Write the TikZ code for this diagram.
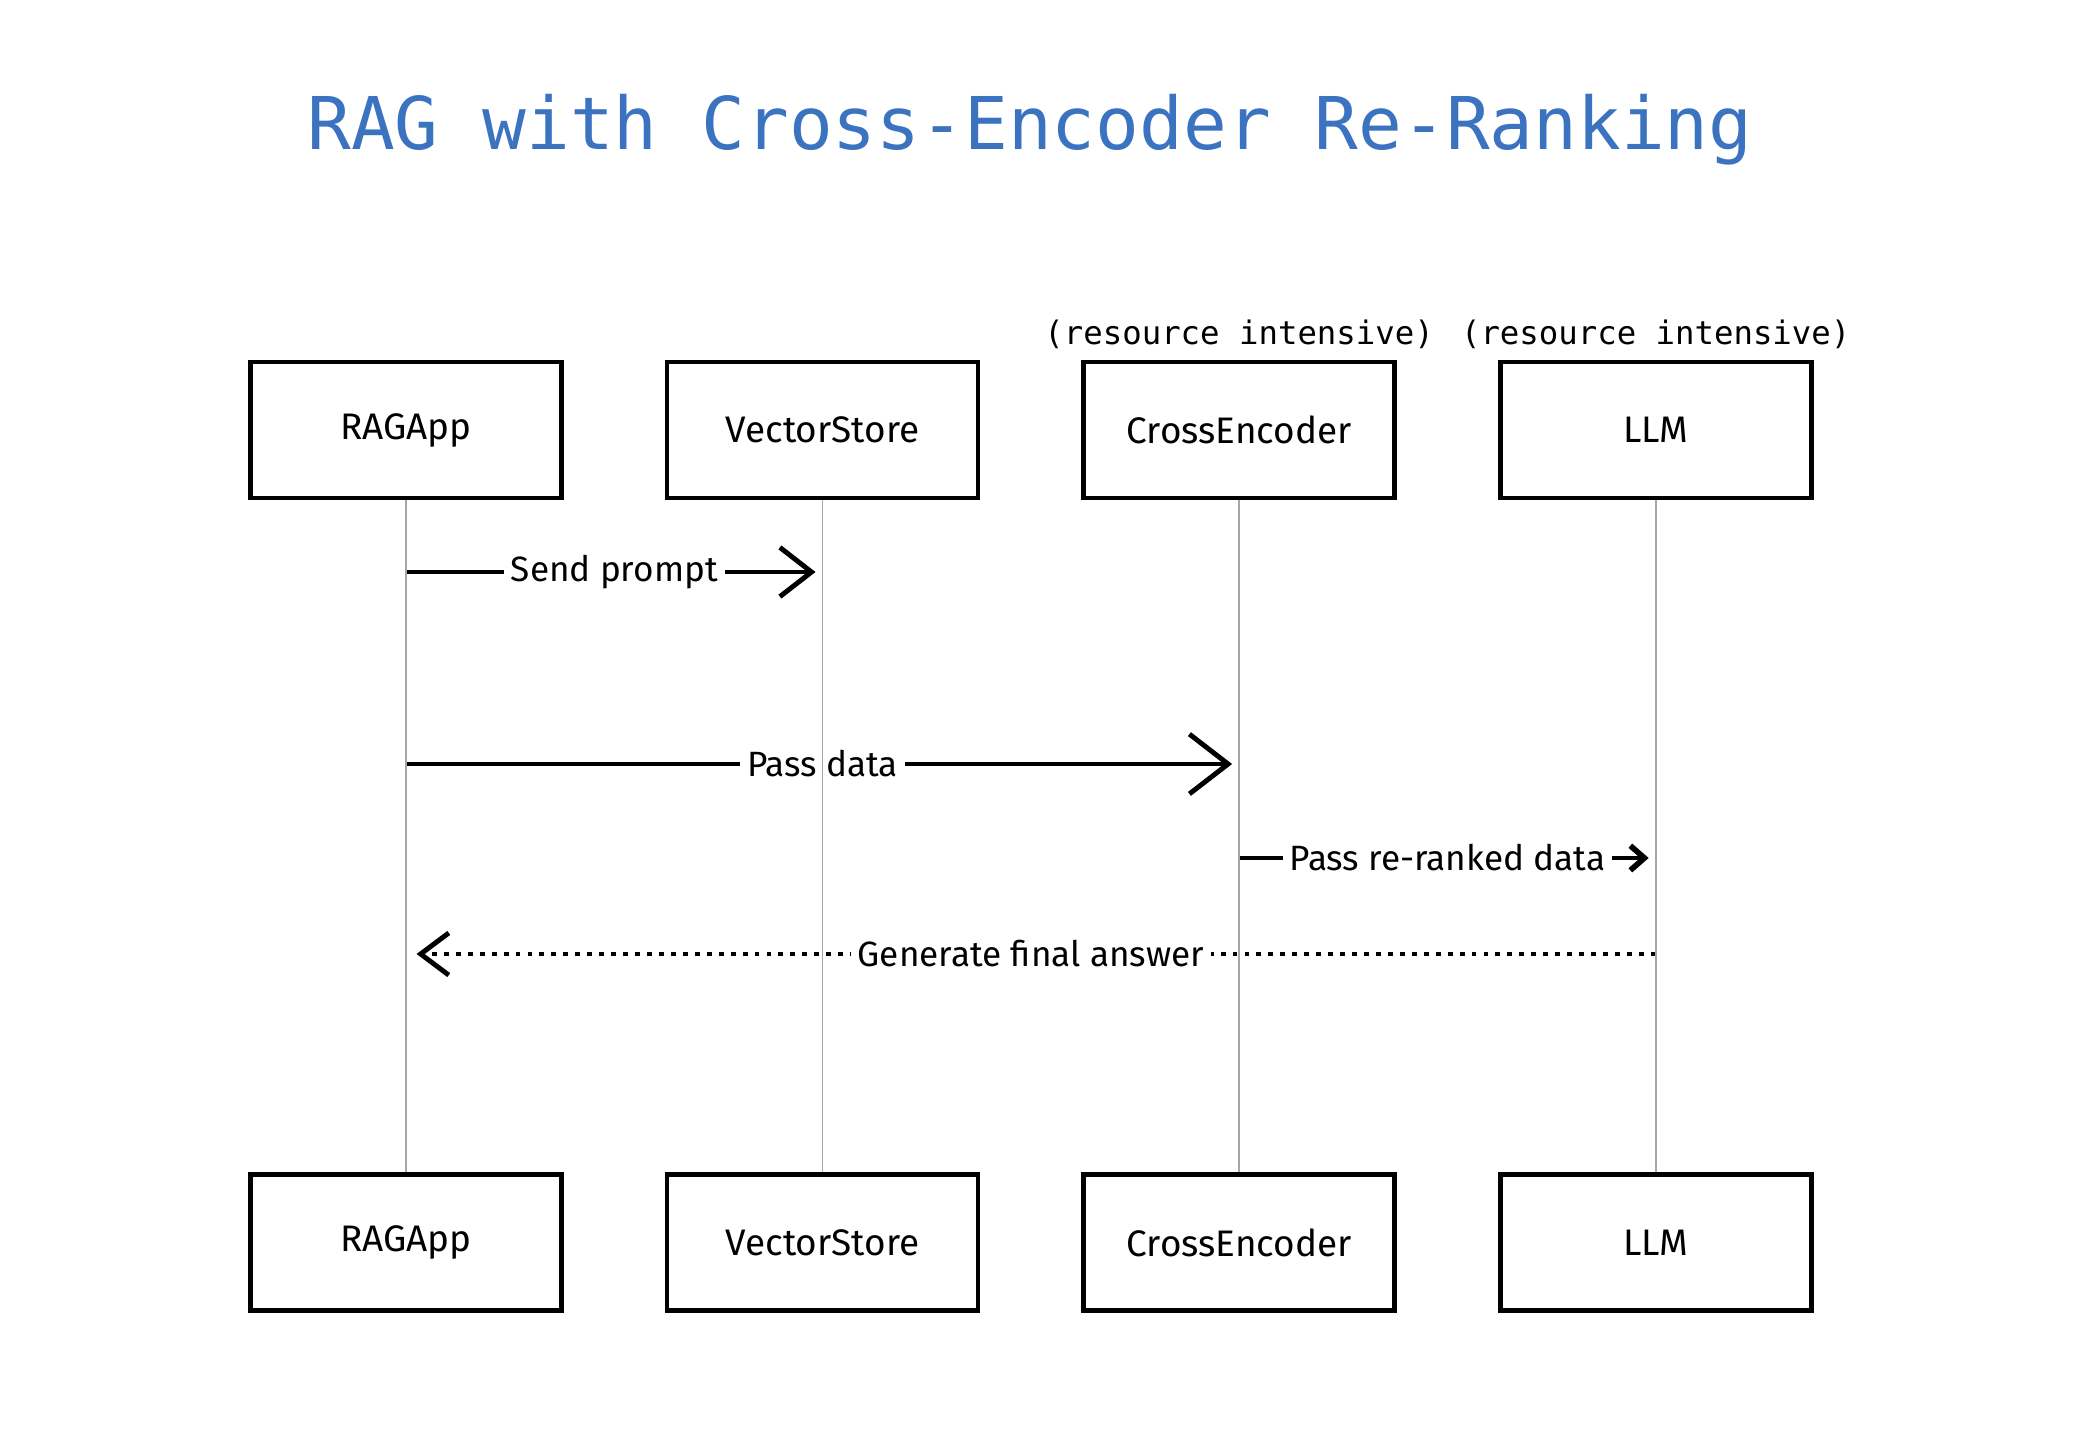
\documentclass[tikz,border=0pt]{standalone}
\usepackage{fontspec}
\setmainfont{Fira Sans}
\setmonofont{DejaVu Sans Mono}
\usepackage{xcolor}
\usepackage{tikz}
\usetikzlibrary{arrows.meta,positioning}
\definecolor{ttlblue}{RGB}{59,115,192}

\begin{document}
\begin{tikzpicture}[
  node distance=6.72cm and 1.01cm,
  actor/.style={draw, line width=1.3pt, minimum width=3.11cm, minimum height=1.36cm,
                inner sep=0pt, font=\fontsize{10.5}{12}\selectfont},
  note/.style ={font=\ttfamily\fontsize{9.2}{11}\selectfont, inner sep=0pt},
  lbl/.style  ={fill=white, inner sep=2pt, font=\fontsize{10}{12}\selectfont},
  msg/.style  ={line width=1.4pt, -{Straight Barb[length=9pt, width=14pt, line width=1.4pt]}},
  life/.style ={gray!70, line width=0.5pt}]
\useasboundingbox (0,0) rectangle (20.86,-14.28);
\node[font=\ttfamily\fontsize{20.7}{24}\selectfont, text=ttlblue] (title) at (10.30,-1.30)
  {RAG with Cross-Encoder Re-Ranking};
% participants, top row
\node[actor] (rag) at (4.06,-4.30) {RAGApp};
\node[actor, right=of rag] (vec) {VectorStore};
\node[actor, right=of vec] (enc) {CrossEncoder};
\node[actor, right=of enc] (llm) {LLM};
% participants, bottom row
\node[actor, below=of rag] (ragb) {RAGApp};
\node[actor, below=of vec] (vecb) {VectorStore};
\node[actor, below=of enc] (encb) {CrossEncoder};
\node[actor, below=of llm] (llmb) {LLM};
\node[note, above=1mm of enc] (encnote) {(resource intensive)};
\node[note, above=1mm of llm] (llmnote) {(resource intensive)};
% message rows
\coordinate (m1) at (0,-5.72);
\coordinate (m2) at (0,-7.64);
\coordinate (m3) at (0,-8.58);
\coordinate (m4) at (0,-9.54);
\draw[msg, shorten >=2pt] (rag |- m1) -- node[lbl] {Send prompt} (vec |- m1);
\draw[msg, shorten >=2pt,
  -{Straight Barb[length=11pt, width=17pt, line width=1.4pt]}]
  (rag |- m2) -- node[lbl] {Pass data} (enc |- m2);
\draw[msg, shorten >=2pt,
  -{Straight Barb[length=4pt, width=7pt, line width=1.6pt]}]
  (enc |- m3) -- node[lbl] {Pass re-ranked data} (llm |- m3);
\draw[line width=1.4pt, dotted, shorten >=3pt,
  -{Straight Barb[length=8pt, width=12pt, line width=1.4pt]}]
  (llm |- m4) -- node[lbl] {Generate final answer} (rag |- m4);
% lifelines
\draw[life] (rag) -- (ragb);
\draw[life] (vec) -- (vecb);
\draw[life] (enc) -- (encb);
\draw[life] (llm) -- (llmb);
\end{tikzpicture}
\end{document}
